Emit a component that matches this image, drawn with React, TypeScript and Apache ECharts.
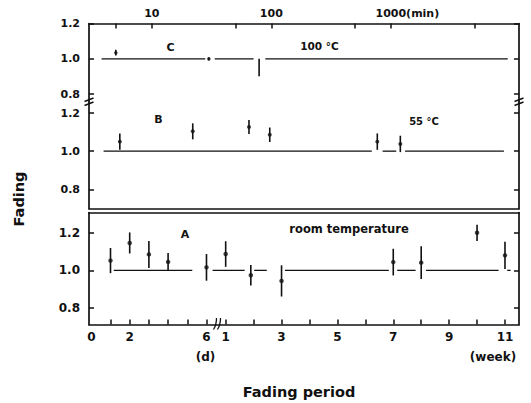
import React, { useEffect, useRef } from "react";
import * as echarts from "echarts";

const INK = "#111";
const FONT = "'DejaVu Sans', 'Noto Sans', sans-serif";

// ---------------- data ----------------
// Panel C : 100 °C, fading period in minutes (top logarithmic axis)
const cMinutes = [5, 30, 79];
const cFading = [1.035, 1.0, 0.951];
const cError = [0.016, 0.008, 0.05];
const cHasDot = [true, true, false];
const cRefSegments = [[3.8, 28], [33.6, 71], [89, 9500]];

// Panel B : 55 °C, fading period in minutes
const bMinutes = [5.4, 22, 65, 97, 770, 1200];
const bFading = [1.05, 1.104, 1.127, 1.086, 1.05, 1.038];
const bError = [0.043, 0.042, 0.037, 0.038, 0.043, 0.043];
const bRefSegments = [[3.95, 693], [853, 1109], [1315, 8830]];

// Panel A : room temperature, fading period in days then weeks
const aDays = [1, 2, 3, 4, 6];
const aDayFading = [1.052, 1.146, 1.085, 1.045, 1.016];
const aDayError = [0.067, 0.056, 0.072, 0.048, 0.071];
const aWeeks = [1, 1.9, 3, 7, 8, 10, 11];
const aWeekFading = [1.087, 0.974, 0.944, 1.044, 1.041, 1.2, 1.08];
const aWeekError = [0.068, 0.054, 0.083, 0.071, 0.087, 0.043, 0.072];
const aRefSegments = [
  [{ d: 1.17 }, { d: 5.26 }],
  [{ d: 6.32 }, { w: 1.68 }],
  [{ w: 2.02 }, { w: 2.47 }],
  [{ w: 3.12 }, { w: 6.84 }],
  [{ w: 7.14 }, { w: 7.8 }],
  [{ w: 8.17 }, { w: 10.77 }],
  [{ w: 11.08 }, { w: 11.2 }],
];
const refLevel = 1.0;

// ticks and labels
const topTickMinutes = [5, 10, 50, 100, 500, 1000, 5000];
const topLabelMinutes = [10, 100, 1000];
const topUnit = "(min)";
const fadingTicks = [0.8, 1.0, 1.2];
const dayTicks = [1, 2, 3, 4, 5, 6];
const weekTicks = [1, 2, 3, 4, 5, 6, 7, 8, 9, 10, 11];
const dayLabels = [0, 2, 6];
const weekLabels = [1, 3, 5, 7, 9, 11];

// ---------------- layout ----------------
const L = 89;
const R = 12;
const LOG_MIN = 0.4745;
const LOG_MAX = 4.072;
const POS_MIN = -0.12;
const POS_MAX = 22.28;
const WEEK_ORIGIN = 7;
const WEEK_STEP = 1.455;

const dayPos = (d: number) => d;
const weekPos = (w: number) => WEEK_ORIGIN + (w - 1) * WEEK_STEP;
const segPos = (p: any) => (p.d !== undefined ? dayPos(p.d) : weekPos(p.w));
const lg = (m: number) => Math.log10(m);

const lineStyle = { color: INK, width: 1.7 };
const tickStyle = { color: INK, width: 1.5 };

function errorBars(xi: number, yi: number, data: number[][]) {
  return {
    type: "custom",
    xAxisIndex: xi,
    yAxisIndex: yi,
    data,
    encode: { x: 0, y: [1, 2] },
    silent: true,
    z: 3,
    renderItem: (_p: any, api: any) => {
      const a = api.coord([api.value(0), api.value(1)]);
      const b = api.coord([api.value(0), api.value(2)]);
      return {
        type: "line",
        shape: { x1: a[0], y1: a[1], x2: b[0], y2: b[1] },
        style: { stroke: INK, lineWidth: 1.6 },
      };
    },
  };
}

function refSegments(xi: number, yi: number, data: number[][]) {
  return {
    type: "custom",
    xAxisIndex: xi,
    yAxisIndex: yi,
    data,
    encode: { x: [0, 1], y: 2 },
    silent: true,
    z: 2,
    renderItem: (_p: any, api: any) => {
      const a = api.coord([api.value(0), api.value(2)]);
      const b = api.coord([api.value(1), api.value(2)]);
      return {
        type: "line",
        shape: { x1: a[0], y1: a[1], x2: b[0], y2: b[1] },
        style: { stroke: INK, lineWidth: 1.3 },
      };
    },
  };
}

function dots(xi: number, yi: number, data: any[], size: number) {
  return {
    type: "scatter",
    xAxisIndex: xi,
    yAxisIndex: yi,
    data,
    symbol: "circle",
    symbolSize: size,
    itemStyle: { color: INK },
    silent: true,
    z: 4,
  };
}

function yAxisPair(gridIndex: number, min: number, max: number, fontSize: number) {
  const base = {
    gridIndex,
    type: "value",
    min,
    max,
    splitLine: { show: false },
    axisLine: { show: true, onZero: false, lineStyle },
    axisTick: { show: true, inside: true, length: 5, customValues: fadingTicks, lineStyle: tickStyle },
  };
  return [
    {
      ...base,
      position: "left",
      axisLabel: {
        show: true,
        customValues: fadingTicks,
        formatter: (v: number) => v.toFixed(1),
        color: INK,
        fontFamily: FONT,
        fontWeight: "bold",
        fontSize,
        margin: 9,
      },
    },
    { ...base, position: "right", axisLabel: { show: false } },
  ];
}

function plainX(gridIndex: number, position: string, min: number, max: number) {
  return {
    gridIndex,
    type: "value",
    position,
    min,
    max,
    splitLine: { show: false },
    axisLine: { show: true, onZero: false, lineStyle },
    axisTick: { show: false },
    axisLabel: { show: false },
  };
}

export default function App() {
  const ref = useRef<HTMLDivElement>(null);

  useEffect(() => {
    document.body.style.margin = "0";
    if (!ref.current) return;
    const chart = echarts.init(ref.current, null, { renderer: "svg" });

    const bottomLabelPos = [...dayLabels.map(dayPos), ...weekLabels.map(weekPos)];
    const bottomLabelText = [...dayLabels.map(String), ...weekLabels.map(String)];

    const labelFont = { color: INK, fontFamily: FONT, fontWeight: "bold", fontSize: 11 };
    const textStyle = (text: string, size: number, weight = "bold") => ({
      text,
      fill: INK,
      fontFamily: FONT,
      fontWeight: weight,
      fontSize: size,
      align: "center",
      verticalAlign: "middle",
    });

    const option: any = {
      animation: false,
      backgroundColor: "#fff",
      grid: [
        { left: L, right: R, top: 23.5, height: 78.5, outerBoundsMode: "none" },
        { left: L, right: R, top: 102, height: 106.5, outerBoundsMode: "none" },
        { left: L, right: R, top: 212.5, height: 112, outerBoundsMode: "none" },
      ],
      xAxis: [
        {
          gridIndex: 0,
          type: "value",
          position: "top",
          min: LOG_MIN,
          max: LOG_MAX,
          splitLine: { show: false },
          axisLine: { show: true, onZero: false, lineStyle },
          axisTick: {
            show: true,
            inside: true,
            length: 5,
            customValues: topTickMinutes.map(lg),
            lineStyle: tickStyle,
          },
          axisLabel: {
            show: true,
            customValues: topLabelMinutes.map(lg),
            margin: 5,
            ...labelFont,
            formatter: (v: number) => {
              const m = Math.round(Math.pow(10, v));
              const last = topLabelMinutes[topLabelMinutes.length - 1];
              return m === last ? `{s| }{n|${m}}{u|${topUnit}}` : String(m);
            },
            rich: {
              s: { width: 33, ...labelFont },
              n: { ...labelFont },
              u: { ...labelFont },
            },
          },
        },
        plainX(1, "bottom", LOG_MIN, LOG_MAX),
        {
          gridIndex: 2,
          type: "value",
          position: "bottom",
          min: POS_MIN,
          max: POS_MAX,
          splitLine: { show: false },
          axisLine: { show: true, onZero: false, lineStyle },
          axisTick: {
            show: true,
            inside: true,
            length: 5,
            customValues: [...dayTicks.map(dayPos), ...weekTicks.map(weekPos)],
            lineStyle: tickStyle,
          },
          axisLabel: {
            show: true,
            customValues: bottomLabelPos,
            margin: 6,
            color: INK,
            fontFamily: FONT,
            fontWeight: "bold",
            fontSize: 12,
            formatter: (v: number) => {
              const i = bottomLabelPos.findIndex((p) => Math.abs(p - v) < 1e-3);
              return i >= 0 ? bottomLabelText[i] : "";
            },
          },
        },
        plainX(2, "top", POS_MIN, POS_MAX),
      ],
      yAxis: [
        ...yAxisPair(0, 0.756, 1.2, 11),
        ...yAxisPair(1, 0.699, 1.258, 11),
        ...yAxisPair(2, 0.712, 1.308, 12),
      ],
      series: [
        // C
        refSegments(0, 0, cRefSegments.map(([a, b]) => [lg(a), lg(b), refLevel])),
        errorBars(0, 0, cMinutes.map((m, i) => [lg(m), cFading[i] - cError[i], cFading[i] + cError[i]])),
        dots(
          0,
          0,
          cMinutes.map((m, i) => ({ value: [lg(m), cFading[i]], symbolSize: cHasDot[i] ? 3.5 : 0 })),
          3.5
        ),
        // B
        refSegments(1, 2, bRefSegments.map(([a, b]) => [lg(a), lg(b), refLevel])),
        errorBars(1, 2, bMinutes.map((m, i) => [lg(m), bFading[i] - bError[i], bFading[i] + bError[i]])),
        dots(1, 2, bMinutes.map((m, i) => [lg(m), bFading[i]]), 4),
        // A
        refSegments(2, 4, aRefSegments.map(([a, b]) => [segPos(a), segPos(b), refLevel])),
        errorBars(2, 4, [
          ...aDays.map((d, i) => [dayPos(d), aDayFading[i] - aDayError[i], aDayFading[i] + aDayError[i]]),
          ...aWeeks.map((w, i) => [weekPos(w), aWeekFading[i] - aWeekError[i], aWeekFading[i] + aWeekError[i]]),
        ]),
        dots(2, 4, [
          ...aDays.map((d, i) => [dayPos(d), aDayFading[i]]),
          ...aWeeks.map((w, i) => [weekPos(w), aWeekFading[i]]),
        ], 4.5),
      ],
      graphic: [
        { type: "text", x: 18.5, y: 199, rotation: Math.PI / 2, style: textStyle("Fading", 14.5, "bold") },
        { type: "text", x: 299, y: 392, style: textStyle("Fading period", 14.5, "bold") },
        { type: "text", x: 205.5, y: 357, style: textStyle("(d)", 12) },
        { type: "text", x: 493, y: 357, style: textStyle("(week)", 12) },
        { type: "text", x: 170.5, y: 47, style: textStyle("C", 11) },
        { type: "text", x: 319.5, y: 46, style: textStyle("100 °C", 10.5) },
        { type: "text", x: 158.5, y: 119.5, style: textStyle("B", 11) },
        { type: "text", x: 424, y: 121.5, style: textStyle("55 °C", 10) },
        { type: "text", x: 185, y: 234.5, style: textStyle("A", 11) },
        { type: "text", x: 349, y: 229, style: textStyle("room temperature", 11.5) },
        // axis break marks (left and right of the upper frame)
        { type: "line", shape: { x1: 84.5, y1: 101.5, x2: 93.5, y2: 98 }, style: { stroke: INK, lineWidth: 1.4 } },
        { type: "line", shape: { x1: 84.5, y1: 105.5, x2: 93.5, y2: 102 }, style: { stroke: INK, lineWidth: 1.4 } },
        { type: "line", shape: { x1: 514.5, y1: 101.5, x2: 523.5, y2: 98 }, style: { stroke: INK, lineWidth: 1.4 } },
        { type: "line", shape: { x1: 514.5, y1: 105.5, x2: 523.5, y2: 102 }, style: { stroke: INK, lineWidth: 1.4 } },
        // break on the bottom axis between days and weeks
        {
          type: "bezierCurve",
          shape: { x1: 213.5, y1: 329.5, x2: 216.5, y2: 318, cpx1: 216.5, cpy1: 325 },
          style: { stroke: INK, lineWidth: 1.3, fill: "none" },
        },
        {
          type: "bezierCurve",
          shape: { x1: 217.5, y1: 329.5, x2: 220.5, y2: 318, cpx1: 220.5, cpy1: 325 },
          style: { stroke: INK, lineWidth: 1.3, fill: "none" },
        },
      ],
    };

    chart.setOption(option);
    return () => chart.dispose();
  }, []);

  return (
    <div
      ref={ref}
      style={{ position: "absolute", left: 0, top: 0, width: 531, height: 403, background: "#fff" }}
    />
  );
}
